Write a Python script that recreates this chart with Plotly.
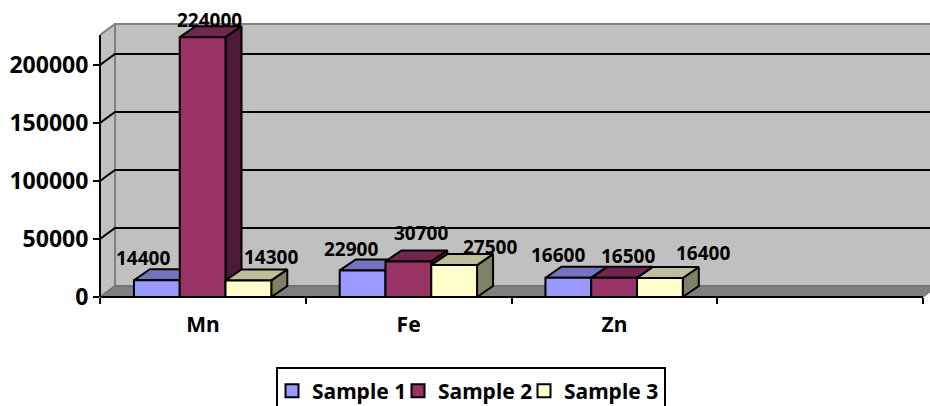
import plotly.graph_objects as go

categories = ["Mn", "Fe", "Zn"]
series_names = ["Sample 1", "Sample 2", "Sample 3"]
sample_1 = [14400, 22900, 16600]
sample_2 = [224000, 30700, 16500]
sample_3 = [14300, 27500, 16400]
series_values = [sample_1, sample_2, sample_3]
y_ticks = [0, 50000, 100000, 150000, 200000]

front_colors = ["#9999FF", "#993366", "#FFFFCC"]
top_colors = ["#7373BF", "#73264D", "#BFBF99"]
side_colors = ["#4D4D80", "#4D1A33", "#808066"]
# label offsets in px relative to the bar top centre
label_dx = [[-14, 7, 23], [-12, 13, 36], [-10, 14, 43]]
label_dy = [[-22, -17, -23], [-21, -28, -18], [-23, -22, -25]]

W, H = 930, 406
L, R4, T, B = 100, 923, 22, 297   # px: left, position of category edge 4, plot top, baseline
AXIS_TOP = 35
PX_X = 4 / (R4 - L)
PX_Y = 50000 / 58
FONT = "Noto Sans"
FS_Y, FS_X, FS_LABEL, FS_LEGEND = 23, 21, 19, 21

wall_dx, wall_dy = 15 * PX_X, 11 * PX_Y
bar_dx, bar_dy = 16 * PX_X, 11 * PX_Y
group_start, bar_w = 0.165, 0.2225
x_end = 4 + 15 * PX_X
Y_AXIS_MAX = (B - AXIS_TOP) * PX_Y


def px_x(p):
    return (p - L) / (W - L)


def px_y(p):
    return (B - p) / (B - T)


fig = go.Figure()


def poly(xs, ys, fill, line="black", width=2):
    fig.add_trace(go.Scatter(
        x=xs + xs[:1], y=ys + ys[:1], mode="lines", fill="toself", fillcolor=fill,
        line=dict(color=line, width=width), showlegend=False, hoverinfo="skip"))


# walls and floor
poly([wall_dx, x_end, x_end, wall_dx], [wall_dy, wall_dy, Y_AXIS_MAX + wall_dy, Y_AXIS_MAX + wall_dy], "#C0C0C0", "#808080")
poly([0, wall_dx, wall_dx, 0], [0, wall_dy, Y_AXIS_MAX + wall_dy, Y_AXIS_MAX], "#C0C0C0", "#808080")
poly([0, wall_dx, x_end, 4], [0, wall_dy, wall_dy, 0], "#808080", "#666666", 1)

# gridlines
gx, gy = [], []
for t in y_ticks[1:]:
    gx += [0, wall_dx, x_end, None]
    gy += [t, t + wall_dy, t + wall_dy, None]
fig.add_trace(go.Scatter(x=gx, y=gy, mode="lines", line=dict(color="black", width=2),
                         showlegend=False, hoverinfo="skip"))

# bars
annotations = []
for c in range(len(categories)):
    for s, values in enumerate(series_values):
        v = values[c]
        x0 = c + group_start + s * bar_w
        x1 = x0 + bar_w
        poly([x1, x1 + bar_dx, x1 + bar_dx, x1], [0, bar_dy, v + bar_dy, v], side_colors[s])
        poly([x0, x1, x1 + bar_dx, x0 + bar_dx], [v, v, v + bar_dy, v + bar_dy], top_colors[s])
        poly([x0, x1, x1, x0], [0, 0, v, v], front_colors[s])
        annotations.append(dict(
            x=(x0 + x1) / 2, y=v, text=str(v), showarrow=False, xref="x", yref="y",
            xanchor="center", yanchor="middle", xshift=label_dx[c][s], yshift=-label_dy[c][s],
            font=dict(family=FONT, size=FS_LABEL, color="black", weight="bold")))

# legend entries
for s, name in enumerate(series_names):
    fig.add_trace(go.Scatter(
        x=[None], y=[None], mode="markers", name=name,
        marker=dict(symbol="square", size=13, color=front_colors[s], line=dict(color="black", width=2))))
# blank entry: keeps the legend wide enough that the last label is not clipped
fig.add_trace(go.Scatter(x=[None], y=[None], mode="markers", name="\u00a0",
                         marker=dict(size=1, opacity=0)))

fig.update_layout(
    width=W, height=H, autosize=False,
    margin=dict(l=L, r=0, t=T, b=H - B, pad=0),
    paper_bgcolor="white", plot_bgcolor="rgba(0,0,0,0)",
    font=dict(family=FONT, color="black"),
    annotations=annotations,
    shapes=[
        dict(type="rect", xref="paper", yref="paper",
             x0=px_x(277), x1=px_x(665), y0=px_y(412), y1=px_y(368),
             line=dict(color="black", width=2), fillcolor="white", layer="below"),
        dict(type="line", xref="paper", yref="paper", x0=px_x(L), x1=px_x(L),
             y0=px_y(B), y1=px_y(AXIS_TOP), line=dict(color="black", width=2)),
        dict(type="line", xref="paper", yref="paper", x0=px_x(L), x1=px_x(R4),
             y0=px_y(B), y1=px_y(B), line=dict(color="black", width=2)),
    ],
    legend=dict(orientation="h", xref="container", yref="container",
                x=272 / W, y=1 - 391 / H,
                xanchor="left", yanchor="middle", bgcolor="rgba(0,0,0,0)", borderwidth=0,
                entrywidth=81, entrywidthmode="pixels", itemclick=False, itemdoubleclick=False,
                font=dict(family=FONT, size=FS_LEGEND, weight="bold", color="black")),
    showlegend=True,
    xaxis=dict(range=[0, (W - L) * PX_X], tickmode="array", tickvals=[0.5, 1.5, 2.5],
               ticktext=categories, ticks="outside", ticklen=9, tickcolor="rgba(0,0,0,0)",
               tickfont=dict(family=FONT, size=FS_X, weight="bold"),
               showgrid=False, zeroline=False, showline=False,
               minor=dict(tickmode="array", tickvals=[0, 1, 2, 3, 4], ticks="outside", ticklen=6,
                          tickcolor="black", tickwidth=2, showgrid=False)),
    yaxis=dict(range=[0, (B - T) * PX_Y], tickmode="array", tickvals=y_ticks,
               ticktext=[str(t) for t in y_ticks], ticks="outside", ticklen=6, tickwidth=2,
               tickcolor="black", tickfont=dict(family=FONT, size=FS_Y, weight="bold"),
               showgrid=False, zeroline=False, showline=False),
)

fig.write_html("out.html", config=dict(displayModeBar=False),
               post_script="document.body.style.margin='0';")
